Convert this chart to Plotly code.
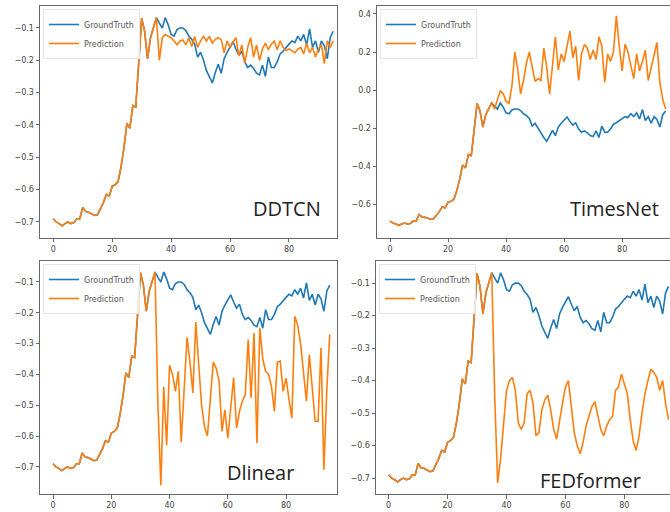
import plotly.graph_objects as go

# time steps of the window
steps = list(range(96))

# observed history (steps 0-35), shared by truth and every model
history = [-0.690, -0.700, -0.705, -0.712, -0.705, -0.700, -0.705, -0.702, -0.690, -0.690,
           -0.655, -0.668, -0.670, -0.675, -0.680, -0.678, -0.660, -0.640, -0.615, -0.620,
           -0.590, -0.585, -0.575, -0.530, -0.470, -0.395, -0.410, -0.340, -0.345, -0.220,
           -0.070, -0.110, -0.195, -0.130, -0.100, -0.068]

# ground truth over the horizon (steps 36-95)
truth_future = [-0.085, -0.100, -0.068, -0.090, -0.120, -0.125, -0.105, -0.100, -0.100, -0.108,
                -0.125, -0.135, -0.150, -0.190, -0.175, -0.200, -0.232, -0.250, -0.270, -0.238,
                -0.212, -0.240, -0.195, -0.175, -0.160, -0.142, -0.165, -0.185, -0.172, -0.205,
                -0.222, -0.215, -0.225, -0.240, -0.245, -0.215, -0.250, -0.190, -0.222, -0.222,
                -0.205, -0.180, -0.172, -0.160, -0.150, -0.140, -0.145, -0.125, -0.140, -0.120,
                -0.152, -0.103, -0.160, -0.140, -0.175, -0.140, -0.155, -0.195, -0.130, -0.110]

# model forecasts over the horizon (steps 36-95)
ddtcn_future = [-0.200, -0.130, -0.120, -0.125, -0.130, -0.140, -0.152, -0.140, -0.137, -0.152,
                -0.130, -0.157, -0.126, -0.160, -0.140, -0.126, -0.140, -0.126, -0.147, -0.135,
                -0.130, -0.136, -0.177, -0.140, -0.160, -0.145, -0.130, -0.187, -0.152, -0.208,
                -0.160, -0.130, -0.190, -0.152, -0.200, -0.165, -0.147, -0.167, -0.150, -0.140,
                -0.167, -0.140, -0.160, -0.170, -0.165, -0.170, -0.177, -0.165, -0.160, -0.180,
                -0.147, -0.177, -0.160, -0.190, -0.165, -0.152, -0.210, -0.140, -0.160, -0.140]

timesnet_future = [-0.100, -0.050, -0.005, -0.020, -0.060, -0.070, 0.020, 0.200, 0.110, -0.020,
                   0.050, 0.140, 0.200, 0.120, 0.045, 0.060, 0.050, 0.220, 0.120, -0.020,
                   0.140, 0.280, 0.105, 0.190, 0.150, 0.240, 0.310, 0.170, 0.230, 0.050,
                   0.190, 0.240, 0.220, 0.160, 0.210, 0.160, 0.280, 0.230, 0.040, 0.190,
                   0.150, 0.200, 0.390, 0.230, 0.100, 0.240, 0.200, 0.130, 0.060, 0.190,
                   0.100, 0.150, 0.210, 0.050, 0.120, 0.180, 0.250, 0.040, -0.050, -0.100]

dlinear_future = [-0.500, -0.760, -0.440, -0.630, -0.370, -0.400, -0.455, -0.390, -0.620, -0.450,
                  -0.280, -0.360, -0.460, -0.230, -0.380, -0.500, -0.570, -0.600, -0.480, -0.360,
                  -0.380, -0.420, -0.585, -0.515, -0.607, -0.500, -0.410, -0.574, -0.520, -0.487,
                  -0.465, -0.287, -0.477, -0.266, -0.623, -0.249, -0.350, -0.390, -0.400, -0.440,
                  -0.520, -0.360, -0.357, -0.455, -0.412, -0.480, -0.542, -0.211, -0.240, -0.300,
                  -0.400, -0.487, -0.336, -0.450, -0.552, -0.552, -0.314, -0.709, -0.450, -0.270]

fedformer_future = [-0.450, -0.715, -0.640, -0.540, -0.430, -0.400, -0.390, -0.430, -0.530, -0.550,
                    -0.530, -0.440, -0.430, -0.470, -0.570, -0.560, -0.490, -0.460, -0.445, -0.490,
                    -0.550, -0.580, -0.520, -0.470, -0.420, -0.400, -0.480, -0.560, -0.600, -0.625,
                    -0.590, -0.540, -0.510, -0.480, -0.465, -0.510, -0.550, -0.570, -0.540, -0.520,
                    -0.510, -0.430, -0.420, -0.380, -0.410, -0.440, -0.520, -0.585, -0.615, -0.570,
                    -0.500, -0.440, -0.400, -0.365, -0.375, -0.390, -0.430, -0.400, -0.470, -0.520]

model_names = ["DDTCN", "TimesNet", "Dlinear", "FEDformer"]
x_ticks = [0, 20, 40, 60, 80]

ground_truth = history + truth_future
forecasts = [history + ddtcn_future, history + timesnet_future,
             history + dlinear_future, history + fedformer_future]

W, H = 670, 512
BLUE, ORANGE = "#1f77b4", "#ff7f0e"

# panel geometry in pixels: x-domain, y-domain (from top), x-range, y-range, y tick step,
# label centre, whether the right frame edge is visible
panels = [
    dict(xd=(40, 337), yd=(6, 237.5), xr=(-4.5, 96.3), yr=(-0.748, -0.032), dt=0.1,
         lab=(287, 208), right=True),
    dict(xd=(377, 670), yd=(6, 237.5), xr=(-4.5, 96.5), yr=(-0.776, 0.442), dt=0.2,
         lab=(614, 208), right=False),
    dict(xd=(40, 337), yd=(261, 494), xr=(-4.5, 97.5), yr=(-0.788, -0.032), dt=0.1,
         lab=(260, 472), right=True),
    dict(xd=(376, 670), yd=(261, 494), xr=(-4.3, 95.5), yr=(-0.749, -0.032), dt=0.1,
         lab=(590, 480), right=False),
]

fig = go.Figure()
layout = dict(width=W, height=H, margin=dict(l=0, r=0, t=0, b=0),
              paper_bgcolor="white", plot_bgcolor="white", showlegend=True,
              font=dict(family="DejaVu Sans", size=8, color="#444"))
annotations = []

for k, (p, name, pred) in enumerate(zip(panels, model_names, forecasts), start=1):
    sfx = "" if k == 1 else str(k)
    leg = "legend" if k == 1 else f"legend{k}"
    fig.add_trace(go.Scatter(x=steps, y=ground_truth, mode="lines", name="GroundTruth",
                             line=dict(color=BLUE, width=1.6),
                             xaxis=f"x{sfx}", yaxis=f"y{sfx}", legend=leg))
    fig.add_trace(go.Scatter(x=steps, y=pred, mode="lines", name="Prediction",
                             line=dict(color=ORANGE, width=1.6),
                             xaxis=f"x{sfx}", yaxis=f"y{sfx}", legend=leg))

    common = dict(showgrid=False, zeroline=False, showline=True, linecolor="#666",
                  linewidth=1, ticks="outside", ticklen=3.5, tickcolor="#666",
                  tickfont=dict(size=8, color="#444"))
    layout[f"xaxis{sfx}"] = dict(domain=[p["xd"][0] / W, p["xd"][1] / W],
                                 range=list(p["xr"]), anchor=f"y{sfx}",
                                 tickvals=x_ticks, mirror=True, **common)
    layout[f"yaxis{sfx}"] = dict(domain=[1 - p["yd"][1] / H, 1 - p["yd"][0] / H],
                                 range=list(p["yr"]), anchor=f"x{sfx}",
                                 dtick=p["dt"], tick0=0, tickformat=".1f",
                                 mirror=p["right"], **common)
    layout[leg] = dict(x=(p["xd"][0] + 3) / W, y=1 - (p["yd"][0] + 3) / H,
                       xanchor="left", yanchor="top", bgcolor="rgba(255,255,255,0.8)",
                       bordercolor="#e4e4e4", borderwidth=1,
                       font=dict(size=8, color="#555"), itemwidth=30,
                       tracegroupgap=0)
    annotations.append(dict(text=name, xref="paper", yref="paper",
                            x=p["lab"][0] / W, y=1 - p["lab"][1] / H,
                            xanchor="center", yanchor="middle", showarrow=False,
                            font=dict(family="Open Sans", size=20, color="#222")))

layout["annotations"] = annotations
fig.update_layout(**layout)
fig.write_html("out.html")
